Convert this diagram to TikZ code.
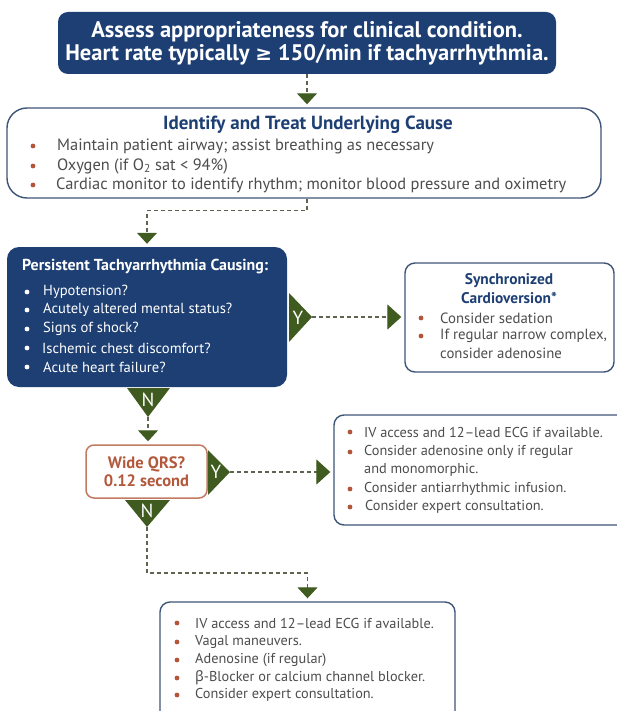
\documentclass[tikz,border=0pt]{standalone}
\usepackage{fontspec}
\setmainfont{PT Sans}
\newfontfamily\grk{Noto Sans}
\newfontfamily\sym{DejaVu Sans}
\usetikzlibrary{arrows.meta}
\definecolor{navy}{HTML}{1D3F73}
\definecolor{agreen}{HTML}{3F5B1F}
\definecolor{dashcol}{HTML}{5E6450}
\definecolor{boxline}{HTML}{3E5577}
\definecolor{bred}{HTML}{B3553A}
\definecolor{textgray}{HTML}{4D4D4D}
\definecolor{qrsline}{HTML}{C27B63}
\definecolor{qrstext}{HTML}{B4583C}
\begin{document}
\begin{tikzpicture}[x=1pt,y=-1pt,
  navybox/.style={fill=navy, rounded corners=10pt, draw=none, inner sep=0pt},
  wbox/.style={draw=boxline, line width=1.4pt, fill=white, rounded corners=10pt, inner sep=0pt},
  qrsbox/.style={draw=qrsline, line width=1.5pt, fill=white, rounded corners=8pt, inner sep=0pt, text=qrstext, align=center, font=\bfseries\fontsize{16.5}{18.5}\selectfont},
  conn/.style={draw=dashcol, line width=1.3pt, dash pattern=on 4pt off 3pt},
  arrD/.style={-{Triangle[length=11pt,width=20pt,color=agreen]}, shorten >=3pt},
  arrR/.style={-{Triangle[length=14pt,width=25pt,color=agreen]}, shorten >=3pt},
  txt/.style={anchor=west, inner sep=0pt, text=textgray, font=\fontsize{14.3}{16}\selectfont},
  ctxt/.style={txt, font=\fontsize{16.4}{18}\selectfont},
  stxt/.style={txt, font=\fontsize{14.8}{16}\selectfont},
  wtxt/.style={txt, text=white, font=\fontsize{14.6}{16}\selectfont},
  ttl/.style={inner sep=0pt, font=\bfseries\fontsize{19}{21}\selectfont, text=navy},
  bul/.style={circle, fill=bred, inner sep=0pt, minimum size=4.8pt},
  wbul/.style={bul, fill=white},
  tri/.style={fill=agreen},
  yn/.style={text=white, inner sep=0pt, font=\fontsize{19}{19}\selectfont},
]
\useasboundingbox (0,0) rectangle (617,711);
\clip (0,0) rectangle (617,711);
\fill[white] (0,0) rectangle (617,711);

% top box
\node[navybox, minimum width=498pt, minimum height=62pt, text=white, align=center,
      font=\bfseries\fontsize{22.5}{23}\selectfont] (top) at (307,43)
  {Assess appropriateness for clinical condition.\\Heart rate typically {\sym\fontsize{20}{23}\selectfont ≥} 150/min if tachyarrhythmia.};

% cause box
\node[wbox, rounded corners=20pt, minimum width=594pt, minimum height=90pt] (cause) at (304,153) {};
\node[ttl] (causeT) at (308,125) {Identify and Treat Underlying Cause};
\node[bul] (cb1) at (33,146) {}; \node[ctxt] (ct1) at (57,146) {Maintain patient airway; assist breathing as necessary};
\node[bul] (cb2) at (33,166) {}; \node[ctxt] (ct2) at (57,166) {Oxygen (if O\textsubscript{2} sat < 94\%)};
\node[bul] (cb3) at (33,185) {}; \node[ctxt] (ct3) at (56,185) {Cardiac monitor to identify rhythm; monitor blood pressure and oximetry};

% dark box
\node[navybox, rounded corners=12pt, minimum width=280pt, minimum height=140pt] (dark) at (147,317) {};
\node[wtxt, font=\bfseries\fontsize{15.9}{17}\selectfont] (darkT) at (22,267) {Persistent Tachyarrhythmia Causing:};
\node[wbul] (db1) at (27,292) {}; \node[wtxt] (dt1) at (43,292) {Hypotension?};
\node[wbul] (db2) at (27,310) {}; \node[wtxt] (dt2) at (43,310) {Acutely altered mental status?};
\node[wbul] (db3) at (27,329) {}; \node[wtxt] (dt3) at (43,329) {Signs of shock?};
\node[wbul] (db4) at (27,348) {}; \node[wtxt] (dt4) at (42,348) {Ischemic chest discomfort?};
\node[wbul] (db5) at (27,367) {}; \node[wtxt] (dt5) at (43,367) {Acute heart failure?};

% sync box
\node[wbox, minimum width=209pt, minimum height=109pt] (sync) at (509.5,317.5) {};
\node[ttl, font=\bfseries\fontsize{15.4}{17}\selectfont] (syncT1) at (509,281) {Synchronized};
\node[ttl, font=\bfseries\fontsize{15.4}{17}\selectfont] (syncT2) at (509,298) {Cardioversion*};
\node[bul] (sb1) at (421,318) {}; \node[stxt] (st1) at (440,318) {Consider sedation};
\node[bul] (sb2) at (421,336) {}; \node[stxt] (st2) at (440,336) {If regular narrow complex,};
\node[stxt] (st3) at (440,353) {consider adenosine};

% QRS box
\node[qrsbox, minimum width=121pt, minimum height=53pt] (qrs) at (146.5,471.5) {Wide QRS?\\0.12 second};

% right box
\node[wbox, minimum width=306pt, minimum height=110pt] (rbox) at (487,470) {};
\node[bul] (rb1) at (350,432) {}; \node[txt] (rt1) at (364,432) {IV access and 12–lead ECG if available.};
\node[bul] (rb2) at (350,452) {}; \node[txt] (rt2) at (364,452) {Consider adenosine only if regular};
\node[txt] (rt3) at (364,470) {and monomorphic.};
\node[bul] (rb4) at (350,489) {}; \node[txt] (rt4) at (364,489) {Consider antiarrhythmic infusion.};
\node[bul] (rb5) at (350,507) {}; \node[txt] (rt5) at (365,507) {Consider expert consultation.};

% bottom box
\node[wbox, minimum width=295pt, minimum height=140pt] (bot) at (307.5,672) {};
\node[bul] (bb1) at (177,623) {}; \node[txt] (bt1) at (195,623) {IV access and 12–lead ECG if available.};
\node[bul] (bb2) at (177,642) {}; \node[txt] (bt2) at (195,642) {Vagal maneuvers.};
\node[bul] (bb3) at (177,660) {}; \node[txt] (bt3) at (195,660) {Adenosine (if regular)};
\node[bul] (bb4) at (177,678) {}; \node[txt] (bt4) at (195,678) {{\grk β}-Blocker or calcium channel blocker.};
\node[bul] (bb5) at (177,695) {}; \node[txt] (bt5) at (195,695) {Consider expert consultation.};

% decision triangles
\fill[tri] (289,293) -- (289,342) -- (312,317) -- cycle;
\coordinate (y1tip) at (312,317);
\node[yn] (y1) at (298,318) {Y};
\fill[tri] (127,388) -- (170,388) -- (148,417) -- cycle;
\coordinate (n1tip) at (148,417);
\node[yn] (n1) at (148,400) {N};
\fill[tri] (208,450) -- (208,495) -- (230,472) -- cycle;
\coordinate (y2tip) at (230,472);
\node[yn] (y2) at (216,472) {Y};
\fill[tri] (125,500) -- (170,500) -- (147,527) -- cycle;
\coordinate (n2tip) at (147,527);
\node[yn] (n2) at (147,511) {N};

% connectors
\draw[conn, arrD] (top.south) -- (top.south |- cause.north);
\draw[conn, arrD] (cause.south -| top.south) -- ++(0,12) -| (dark.north);
\draw[conn, arrR] (y1tip) -- (y1tip -| sync.west);
\draw[conn, arrD] (n1tip) -- (n1tip |- qrs.north);
\draw[conn, arrR] (y2tip) -- (y2tip -| rbox.west);
\draw[conn, arrD] (n2tip) -- ++(0,46) -| (bot.north);
\end{tikzpicture}
\end{document}
